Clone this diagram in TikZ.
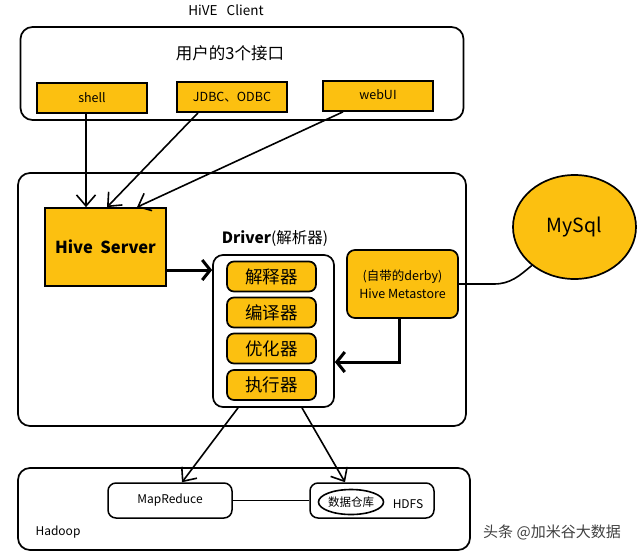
\documentclass[tikz,border=0pt]{standalone}
\usepackage{fontspec}
\setmainfont{Noto Sans CJK SC}
\usetikzlibrary{arrows.meta,shapes.geometric}
\definecolor{hiveyellow}{HTML}{FCC010}
\begin{document}
\begin{tikzpicture}[x=1pt, y=-1pt,
  frame/.style={draw, line width=1.7pt, rounded corners=12pt, minimum width=#1},
  ybox/.style={draw, line width=1.7pt, fill=hiveyellow, inner sep=0pt},
  rbox/.style={ybox, rounded corners=7pt, minimum width=89pt, minimum height=30pt, font=\fontsize{17.5}{17.5}\selectfont},
  wbox/.style={draw, line width=1.5pt, rounded corners=8pt, minimum width=124pt, minimum height=35pt, font=\fontsize{12}{12}\selectfont},
  arr/.style={line width=1.6pt, -{Straight Barb[length=11pt,width=19pt]}},
  thickarr/.style={line width=3pt, -{Straight Barb[length=8pt,width=20pt]}}]
\useasboundingbox (0,0) rectangle (640,555);

% client side
\node[font=\fontsize{13.5}{13.5}\selectfont] (title) at (226,10) {HiVE\ \ \ Client};
\node[frame=443pt, minimum height=93pt] (client) at (242,73.5) {};
\node[font=\fontsize{16.5}{16.5}\selectfont] (users) at (230,53) {用户的3个接口};
\node[ybox, minimum width=110pt, minimum height=30pt, font=\fontsize{12.5}{12.5}\selectfont] (shell) at (92,98) {shell};
\node[ybox, minimum width=110pt, minimum height=30pt, font=\fontsize{12.5}{12.5}\selectfont] (jdbc) at (232,97) {JDBC、ODBC};
\node[ybox, minimum width=110pt, minimum height=30pt, font=\fontsize{12.5}{12.5}\selectfont] (webui) at (378,96) {\raisebox{2pt}{webUI}\hspace{20pt}};

% hive
\node[frame=448pt, minimum height=253pt] (hive) at (242,299.5) {};
\node[ybox, minimum width=121pt, minimum height=78pt, font=\bfseries\fontsize{16.5}{16.5}\selectfont] (server) at (105.5,247) {Hive\ \ Server};
\node[font=\fontsize{15.5}{15.5}\selectfont] (drvlabel) at (275,238) {\textbf{Driver}(解析器)};
\node[draw, line width=1.7pt, rounded corners=10pt, minimum width=121pt, minimum height=152pt] (driver) at (273.5,331) {};
\node[rbox] (interp) at (271.5,276.5) {解释器};
\node[rbox] (compiler) at (271.5,312.5) {编译器};
\node[rbox] (optim) at (271.5,348.5) {优化器};
\node[rbox] (exec) at (271.5,385) {执行器};
\node[ybox, rounded corners=8pt, minimum width=111pt, minimum height=68pt, align=center, font=\fontsize{12.5}{18}\selectfont] (metastore) at (402.5,284) {(自带的derby)\\Hive Metastore};
\node[ellipse, ybox, minimum width=123pt, minimum height=104pt, font=\fontsize{19.5}{19.5}\selectfont] (mysql) at (574.5,227) {MySql};

% hadoop
\node[frame=452pt, minimum height=82pt] (hadoop) at (244,509) {};
\node[font=\fontsize{12}{12}\selectfont] (hadooplabel) at (58,532) {Hadoop};
\node[wbox] (mapreduce) at (170,500.5) {MapReduce};
\node[wbox] (hdfs) at (372,500.5) {};
\node[ellipse, draw, line width=1.6pt, minimum width=62pt, minimum height=25pt, inner sep=0pt, font=\fontsize{11.5}{11.5}\selectfont] (warehouse) at (351,502) {数据仓库};
\node[font=\fontsize{12}{12}\selectfont] (hdfslabel) at (408,504) {HDFS};

\node[text=black!75, font=\fontsize{15}{15}\selectfont] (mark) at (552,532) {头条 @加米谷大数据};

\draw[arr] ([xshift=-6pt]shell.south) -- ([xshift=-19.5pt]server.north);
\draw[arr] ([xshift=-34pt]jdbc.south) -- ([xshift=1.5pt]server.north);
\draw[arr] ([xshift=-35pt]webui.south) -- ([xshift=31.5pt]server.north);
\draw[thickarr] ([yshift=-23pt]server.east) coordinate (s) -- (s -| driver.west);
\draw[thickarr] ([xshift=-3pt]metastore.south) |- ([yshift=-31pt]driver.east);
\draw[line width=1.6pt] (metastore.east) -- ++(35,0) to[out=0, in=220] (mysql.222);
\draw[arr] ([xshift=-35.5pt]driver.south) -- ([xshift=12pt]mapreduce.north);
\draw[arr] ([xshift=28.5pt]driver.south) -- ([xshift=-27pt]hdfs.north);
\draw[line width=1.5pt] (mapreduce.east) -- (hdfs.west);
\end{tikzpicture}
\end{document}
